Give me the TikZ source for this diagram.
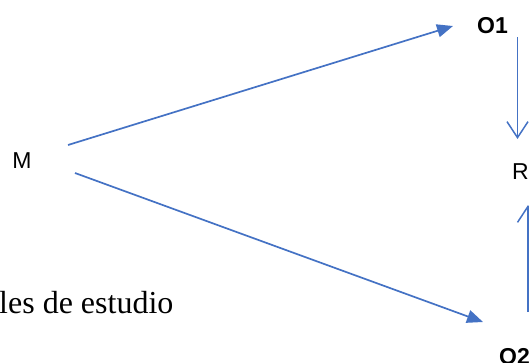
\documentclass[tikz,border=0pt]{standalone}
\usepackage{fontspec}
\setmainfont{Liberation Serif}
\newfontfamily\arialf{Liberation Sans}
\usetikzlibrary{arrows.meta}
\definecolor{officeblue}{HTML}{4472C4}
\begin{document}
\begin{tikzpicture}[x=1pt,y=-1pt,
  conn/.style={officeblue,line width=1.7pt},
  filledarrow/.style={conn,-{Triangle[length=16pt,width=13pt]}},
  openarrow/.style={conn,-{Straight Barb[length=16pt,width=21pt,line width=1.5pt]}},
  lbl/.style={inner sep=0pt,font=\arialf\fontsize{23}{26}\selectfont},
  blbl/.style={lbl,font=\arialf\bfseries\fontsize{23}{26}\selectfont}]
\useasboundingbox (0,0) rectangle (529,362);
\node[lbl,anchor=base] (M) at (22,168) {M};
\node[blbl,anchor=base] (O1) at (492.5,33) {O1};
\node[lbl,anchor=base west] (R) at (512,179) {R};
\node[blbl,anchor=base west] (O2) at (499,364) {O2};
\node[inner sep=0pt,anchor=base west,font=\fontsize{32}{36}\selectfont] (txt) at (-1,313) {les de estudio};
\coordinate (mA) at (68,145);
\coordinate (o1A) at (453,26);
\coordinate (mB) at (75,173);
\coordinate (o2B) at (483,322);
\coordinate (o1C) at (517.5,37);
\coordinate (rC) at (517.5,139);
\coordinate (o2D) at (528,312);
\coordinate (rD) at (528,205);
\draw[filledarrow] (mA) -- (o1A);
\draw[filledarrow] (mB) -- (o2B);
\draw[openarrow] (o1C) -- (rC);
\draw[openarrow] (o2D) -- (rD);
\end{tikzpicture}
\end{document}
